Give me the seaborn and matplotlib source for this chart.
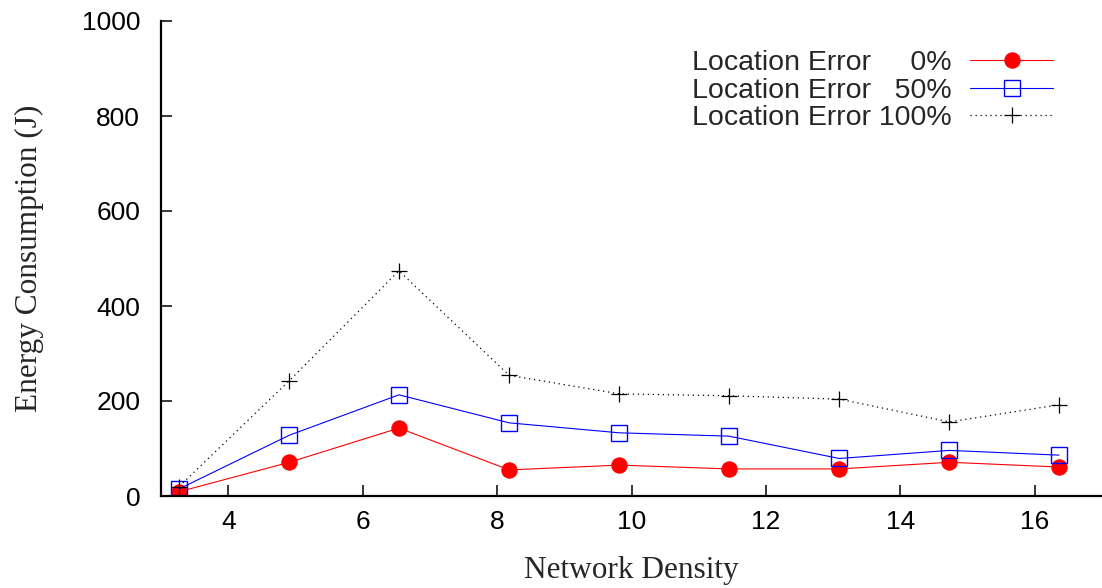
import matplotlib
matplotlib.use("Agg")
import matplotlib.pyplot as plt
import seaborn as sns

# ---- data ----
density = [3.27, 4.91, 6.54, 8.18, 9.82, 11.45, 13.09, 14.73, 16.36]
err_0 = [9, 71, 143, 55, 65, 57, 57, 71, 61]
err_50 = [15, 128, 213, 154, 133, 126, 79, 96, 86]
err_100 = [20, 243, 474, 254, 215, 211, 204, 156, 192]
series_labels = ["Location Error     0%", "Location Error   50%", "Location Error 100%"]
x_ticks = [4, 6, 8, 10, 12, 14, 16]
y_ticks = [0, 200, 400, 600, 800, 1000]
x_label = "Network Density"
y_label = "Energy Consumption (J)"

sns.set_style("ticks")
plt.rcParams["font.family"] = ["Liberation Sans", "DejaVu Sans"]

fig = plt.figure(figsize=(11.02, 5.88), dpi=100)
ax = fig.add_axes([161 / 1102, 1 - 496 / 588, 941 / 1102, 475 / 588])

sns.lineplot(x=density, y=err_0, ax=ax, color="red", linewidth=0.8,
             marker="o", markersize=11, markeredgecolor="red",
             markerfacecolor="red", markeredgewidth=0.8, label=series_labels[0])
sns.lineplot(x=density, y=err_50, ax=ax, color="blue", linewidth=0.8,
             marker="s", markersize=11, markeredgecolor="blue",
             markerfacecolor="none", markeredgewidth=1.0, label=series_labels[1])
sns.lineplot(x=density, y=err_100, ax=ax, color="black", linewidth=0.9,
             linestyle=(0, (1, 3)), marker="+", markersize=12,
             markeredgecolor="black", markeredgewidth=0.9, label=series_labels[2])

ax.set_xlim(3.0, 17.0)
ax.set_ylim(0, 1000)
ax.set_xticks(x_ticks)
ax.set_yticks(y_ticks)
ax.tick_params(axis="both", direction="in", length=8, width=1.1,
               labelsize=19, colors="black")
ax.tick_params(axis="y", pad=15)
ax.tick_params(axis="x", pad=10)

for s in ["top", "right"]:
    ax.spines[s].set_visible(False)
for s in ["left", "bottom"]:
    ax.spines[s].set_linewidth(1.6)
    ax.spines[s].set_color("black")

ax.set_xlabel(x_label, family=["Liberation Serif", "DejaVu Serif"], fontsize=22.5, labelpad=16)
ax.set_ylabel(y_label, family=["Liberation Serif", "DejaVu Serif"], fontsize=22.5, labelpad=27)

ax.legend(loc="upper right", bbox_to_anchor=(0.948, 0.938), frameon=False,
          markerfirst=False, fontsize=20.5, handlelength=2.9,
          handletextpad=0.65, labelspacing=0.05, borderpad=0, borderaxespad=0)

fig.savefig("out.png", dpi=100)
